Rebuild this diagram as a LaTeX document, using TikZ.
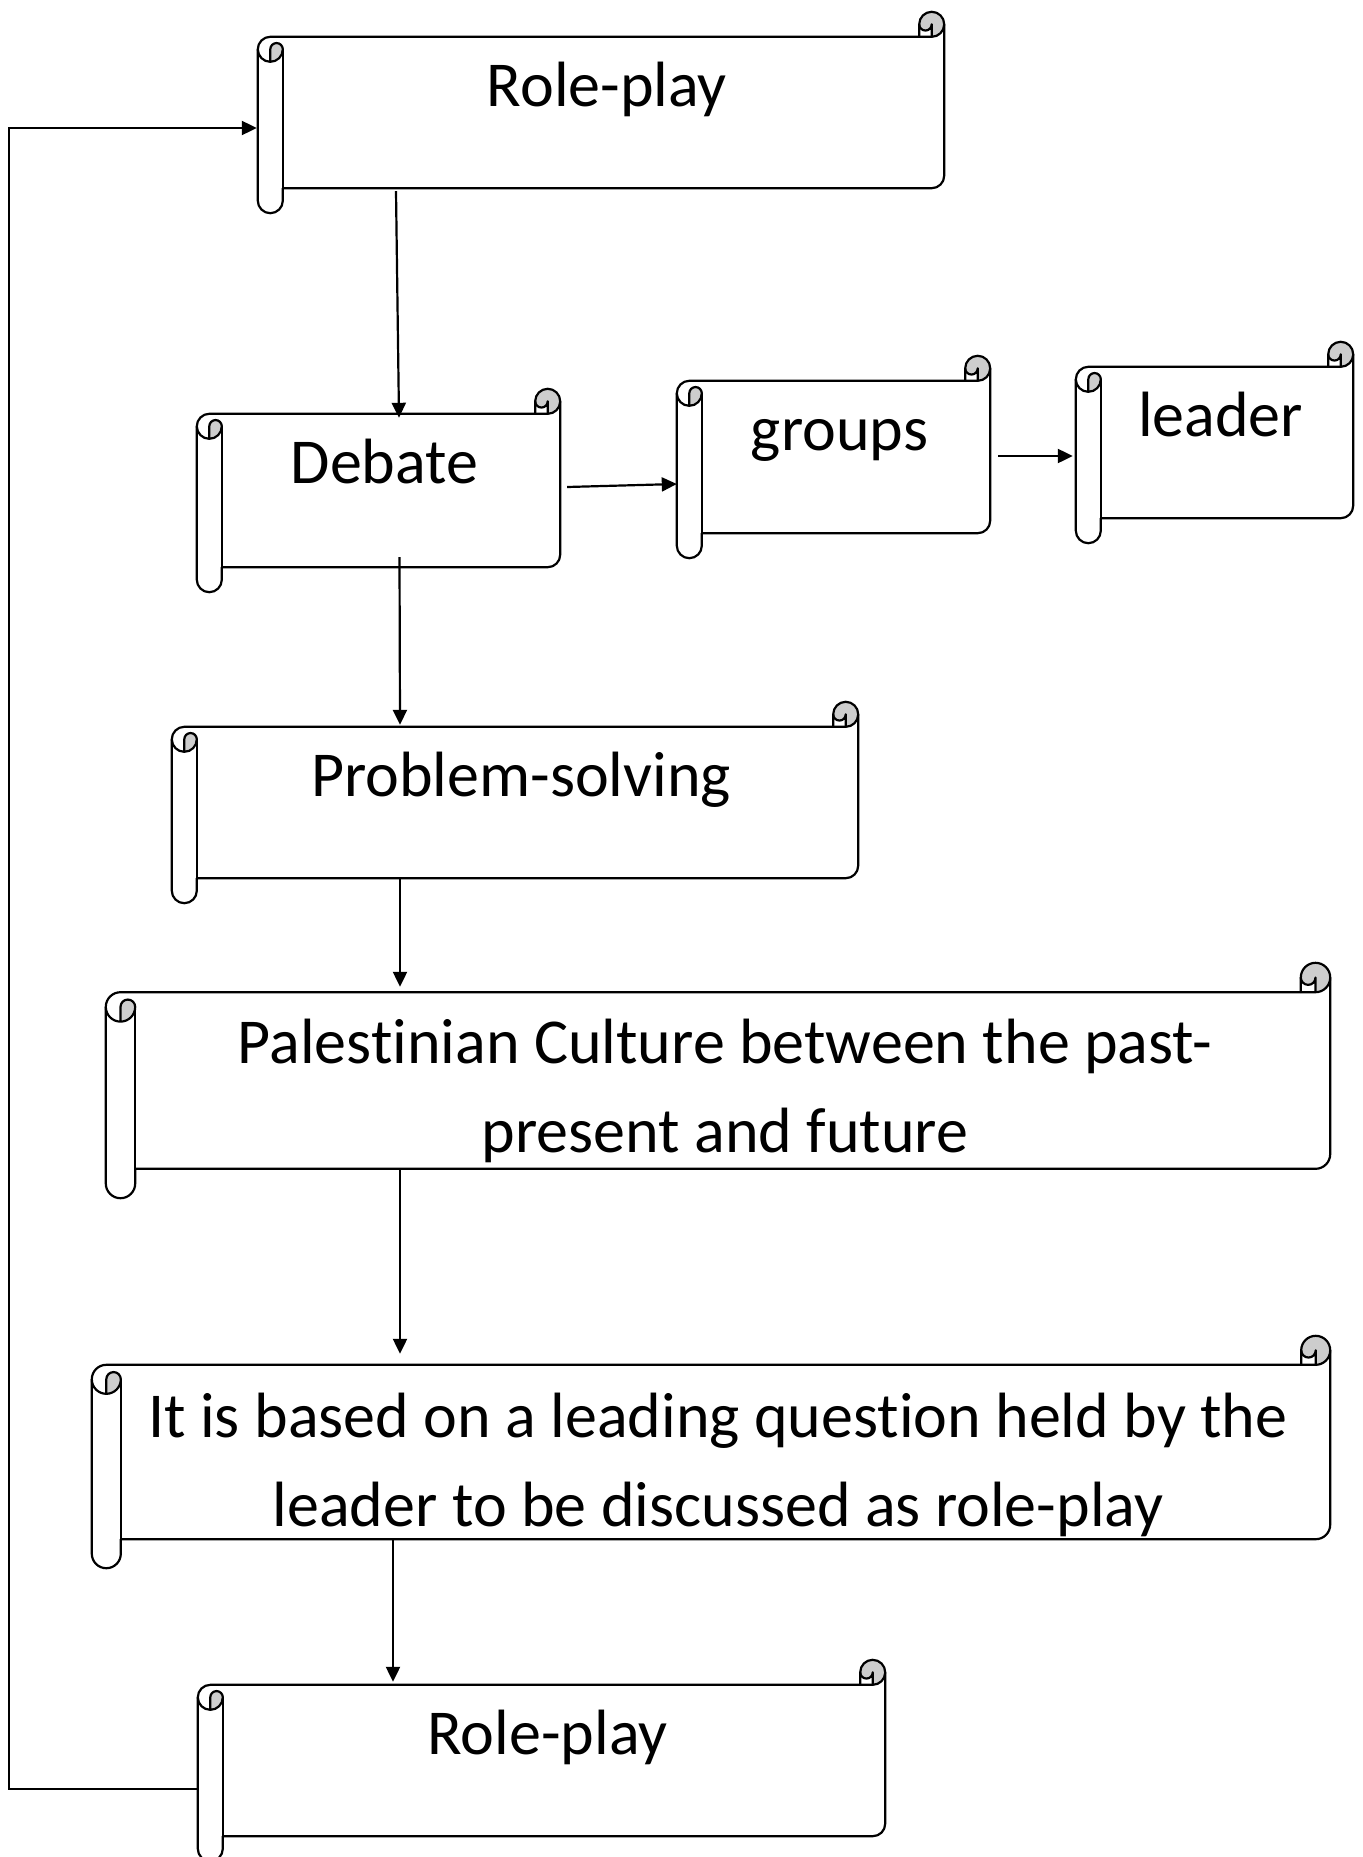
\documentclass[tikz,border=0pt]{standalone}
\usepackage{fontspec}
\setmainfont{Carlito}[Ligatures=NoCommon]
\usetikzlibrary{arrows.meta, calc}
\definecolor{CurlGray}{HTML}{CDCDCD}

% scroll outline drawn round a node, #1 = curl size
\newcommand{\drawscroll}[2][25]{%
  \def\scr{#1}%
  \fill[curl] ($(#2.north west)+(0.5*\scr,-2*\scr)$) arc[start angle=-90,end angle=0,radius=0.5*\scr]
    arc[start angle=0,end angle=180,radius=0.25*\scr] -- cycle;
  \fill[curl] ($(#2.north east)+(-0.5*\scr,-\scr)$) arc[start angle=-90,end angle=180,radius=0.5*\scr]
    arc[start angle=180,end angle=360,radius=0.25*\scr] -- cycle;
  \draw[sheet] ($(#2.north west)+(0,-1.5*\scr)$) arc[start angle=180,end angle=90,radius=0.5*\scr]
    -- ($(#2.north east)+(-\scr,-\scr)$) -- ++(0,0.5*\scr) arc[start angle=180,end angle=0,radius=0.5*\scr]
    -- ($(#2.south east)+(0,1.5*\scr)$) arc[start angle=0,end angle=-90,radius=0.5*\scr]
    -- ($(#2.south west)+(\scr,\scr)$) -- ++(0,-0.5*\scr) arc[start angle=0,end angle=-180,radius=0.5*\scr]
    -- cycle;
  \draw[sheet] ($(#2.north east)+(-\scr,-\scr)$) -- ++(0.5*\scr,0) arc[start angle=-90,end angle=0,radius=0.5*\scr];
  \draw[sheet] ($(#2.north east)+(-0.5*\scr,-\scr)$) -- ++(0,0.5*\scr) arc[start angle=0,end angle=-180,radius=0.25*\scr];
  \draw[sheet] ($(#2.north west)+(0.5*\scr,-2*\scr)$) -- ++(0,0.5*\scr) arc[start angle=180,end angle=0,radius=0.25*\scr]
    arc[start angle=0,end angle=-180,radius=0.5*\scr];
  \draw[sheet] ($(#2.north west)+(\scr,-1.5*\scr)$) -- ($(#2.south west)+(\scr,\scr)$);
}

\begin{document}
\begin{tikzpicture}[
  x=1pt, y=1pt,
  scroll/.style={rectangle, inner sep=0pt},
  title/.style={anchor=base, xshift=6pt, yshift=-95pt, align=center,
                font=\fontsize{64pt}{89pt}\selectfont},
  sheet/.style={line width=2.2pt, line join=round},
  curl/.style={fill=CurlGray},
  arr/.style={-{Triangle[length=15pt,width=14pt]}, line width=2.2pt}
]
  \useasboundingbox (0,0) rectangle (1362,-1857);

  % scrolls
  \node[scroll, minimum width=686pt, minimum height=201pt,
        label={[title]north:Role-play}] (roleA) at (601,-112.5) {};
  \node[scroll, minimum width=363pt, minimum height=203pt,
        label={[title]north:Debate}] (debate) at (378.5,-490.5) {};
  \node[scroll, minimum width=313pt, minimum height=202pt,
        label={[title]north:groups}] (groups) at (833.5,-457) {};
  \node[scroll, minimum width=277pt, minimum height=201pt,
        label={[title]north:leader}] (leader) at (1214.5,-442.5) {};
  \node[scroll, minimum width=686pt, minimum height=201pt,
        label={[title]north:Problem-solving}] (problem) at (515,-802.5) {};
  \node[scroll, minimum width=1224pt, minimum height=235pt,
        label={[title, xshift=1pt, yshift=-95pt]north:Palestinian Culture between the past-\\present and future}] (culture) at (718,-1080.5) {};
  \node[scroll, minimum width=1238pt, minimum height=232pt,
        label={[title, xshift=1pt, yshift=-96pt]north:It is based on a leading question held by the\\leader to be discussed as role-play}] (question) at (711,-1452) {};
  \node[scroll, minimum width=687pt, minimum height=201pt,
        label={[title]north:Role-play}] (roleB) at (541.5,-1760.5) {};

  \drawscroll{roleA}
  \drawscroll{debate}
  \drawscroll{groups}
  \drawscroll{leader}
  \drawscroll{problem}
  \drawscroll[29.4]{culture}
  \drawscroll[29]{question}
  \drawscroll{roleB}

  % connectors
  \coordinate (rail) at (9,-900);
  \draw[arr] ([xshift=-205pt,yshift=22pt]roleA.south) -- ([xshift=20.5pt,yshift=-29pt]debate.north);
  \draw[arr] ([xshift=7pt,yshift=3.5pt]debate.east) -- ([yshift=-27pt]groups.west);
  \draw[arr] ([xshift=8pt,yshift=1pt]groups.east) -- ([xshift=-3pt,yshift=-13.5pt]leader.west);
  \draw[arr] ([xshift=21pt,yshift=35pt]debate.south) -- ([xshift=-115pt,yshift=-23pt]problem.north);
  \draw[arr] ([xshift=-115pt,yshift=25pt]problem.south) -- ([xshift=-318pt,yshift=-24pt]culture.north);
  \draw[arr] ([xshift=-318pt,yshift=29pt]culture.south) -- ([xshift=-311pt,yshift=-18pt]question.north);
  \draw[arr] ([xshift=-318pt,yshift=28pt]question.south) -- ([xshift=-148.5pt,yshift=-22pt]roleB.north);
  \draw[arr] ([yshift=-28.5pt]roleB.west) -| (rail) |- ([xshift=-1pt,yshift=-15.5pt]roleA.west);
\end{tikzpicture}
\end{document}
